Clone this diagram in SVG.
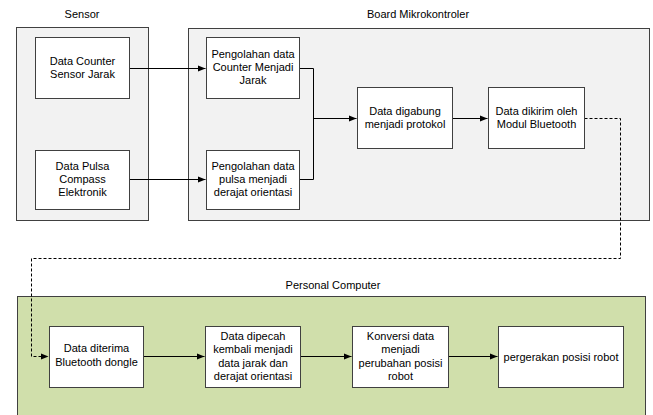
<svg xmlns="http://www.w3.org/2000/svg" width="653" height="415" viewBox="0 0 653 415">
<style>
  .cont { fill: #f2f2f2; stroke: #404040; stroke-width: 1; }
  .green { fill: #d0dfab; stroke: #404040; stroke-width: 1; }
  .box { fill: #ffffff; stroke: #404040; stroke-width: 1; }
  text { font-family: "Liberation Sans", Arial, sans-serif; font-size: 11px; fill: #000; text-anchor: middle; }
  .edge { fill: none; stroke: #000; stroke-width: 1; }
  .dash { stroke-dasharray: 3 2; }
</style>
<defs>
  <marker id="arr" viewBox="0 0 10 10" refX="10" refY="5" markerWidth="8" markerHeight="8" markerUnits="userSpaceOnUse" orient="auto">
    <path d="M0,1 L10,5 L0,9 Z" fill="#000"/>
  </marker>
</defs>
<rect width="653" height="415" fill="#ffffff"/>

<g id="sensor-group">
  <rect class="cont" x="16.5" y="27.5" width="132" height="193"/>
  <text x="82" y="18">Sensor</text>
</g>
<g id="board-group">
  <rect class="cont" x="188.5" y="28.5" width="461" height="192"/>
  <text x="418" y="18">Board Mikrokontroler</text>
</g>
<g id="pc-group">
  <rect class="green" x="17.5" y="296.5" width="628" height="130"/>
  <text x="333" y="289">Personal Computer</text>
</g>

<g id="connectors">
  <path class="edge" d="M129.5,68.5 H205.5" marker-end="url(#arr)"/>
  <path class="edge" d="M129.5,179.5 H205.5" marker-end="url(#arr)"/>
  <path class="edge" d="M299.5,68.5 H313.5 V179.5 H299.5"/>
  <path class="edge" d="M313.5,118.5 H356.5" marker-end="url(#arr)"/>
  <path class="edge" d="M452.5,118.5 H487.5" marker-end="url(#arr)"/>
  <path class="edge dash" d="M584.5,118.5 H620.5 V258.5 H31.5 V356.5 H48.5" marker-end="url(#arr)"/>
  <path class="edge" d="M143.5,356.5 H204.5" marker-end="url(#arr)"/>
  <path class="edge" d="M300.5,356.5 H351.5" marker-end="url(#arr)"/>
  <path class="edge" d="M448.5,356.5 H497.5" marker-end="url(#arr)"/>
</g>

<g id="n-counter">
  <rect class="box" x="35.5" y="37.5" width="94" height="61"/>
  <text x="82.5" y="65">Data Counter</text>
  <text x="82.5" y="78">Sensor Jarak</text>
</g>
<g id="n-pulsa">
  <rect class="box" x="35.5" y="150.5" width="94" height="59"/>
  <text x="82.5" y="169.5">Data Pulsa</text>
  <text x="82.5" y="182.8">Compass</text>
  <text x="82.5" y="196.1">Elektronik</text>
</g>
<g id="n-peng1">
  <rect class="box" x="206.5" y="37.5" width="93" height="61"/>
  <text x="253" y="57.5">Pengolahan data</text>
  <text x="253" y="70.8">Counter Menjadi</text>
  <text x="253" y="84.1">Jarak</text>
</g>
<g id="n-peng2">
  <rect class="box" x="206.5" y="150.5" width="93" height="59"/>
  <text x="253" y="169.5">Pengolahan data</text>
  <text x="253" y="182.8">pulsa menjadi</text>
  <text x="253" y="196.1">derajat orientasi</text>
</g>
<g id="n-gabung">
  <rect class="box" x="357.5" y="87.5" width="95" height="61"/>
  <text x="405" y="114.5">Data digabung</text>
  <text x="405" y="127.5">menjadi protokol</text>
</g>
<g id="n-kirim">
  <rect class="box" x="488.5" y="87.5" width="96" height="61"/>
  <text x="536.5" y="114.5">Data dikirim oleh</text>
  <text x="536.5" y="127.5">Modul Bluetooth</text>
</g>
<g id="n-terima">
  <rect class="box" x="49.5" y="326.5" width="94" height="61"/>
  <text x="96.5" y="352">Data diterima</text>
  <text x="96.5" y="365.5">Bluetooth dongle</text>
</g>
<g id="n-pecah">
  <rect class="box" x="205.5" y="326.5" width="95" height="61"/>
  <text x="253" y="339.5">Data dipecah</text>
  <text x="253" y="353">kembali menjadi</text>
  <text x="253" y="366.5">data jarak dan</text>
  <text x="253" y="380">derajat orientasi</text>
</g>
<g id="n-konversi">
  <rect class="box" x="352.5" y="326.5" width="96" height="61"/>
  <text x="400.5" y="339.5">Konversi data</text>
  <text x="400.5" y="353">menjadi</text>
  <text x="400.5" y="366.5">perubahan posisi</text>
  <text x="400.5" y="380">robot</text>
</g>
<g id="n-gerak">
  <rect class="box" x="498.5" y="326.5" width="125" height="61"/>
  <text x="561" y="360.5">pergerakan posisi robot</text>
</g>
</svg>
